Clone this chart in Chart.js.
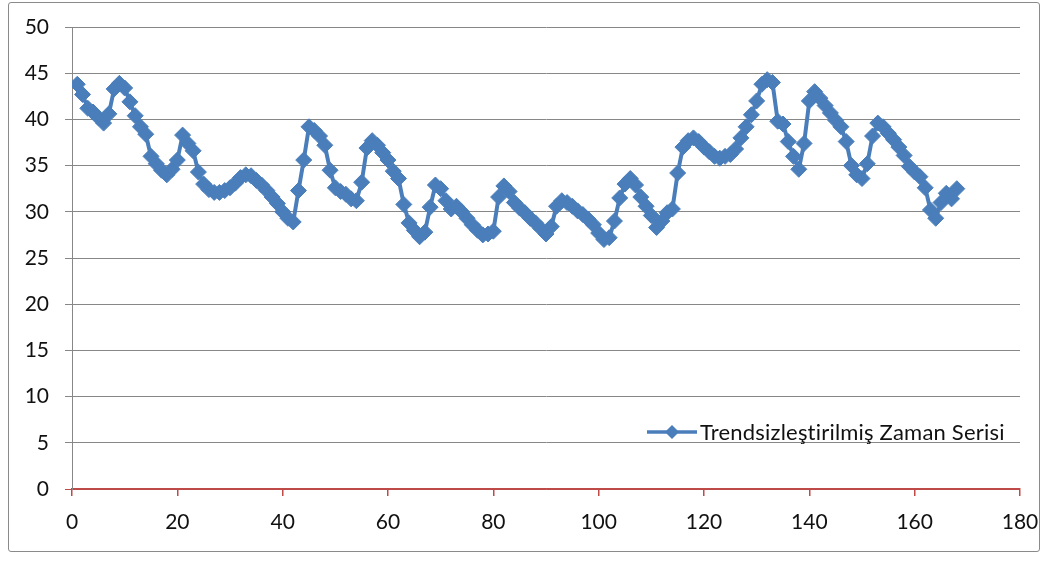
<!DOCTYPE html>
<html>
<head>
<meta charset="utf-8">
<script src="https://cdn.jsdelivr.net/npm/chart.js@4.4.1/dist/chart.umd.min.js"></script>
<style>
  html, body { margin: 0; padding: 0; background: #fff; }
  #wrap { position: relative; width: 1049px; height: 561px; overflow: hidden; }
  #frame { position: absolute; left: 8px; top: 2px; width: 1032px; height: 550px;
           border: 1px solid #8a8a8a; border-radius: 3px; box-sizing: border-box; }
  #chart { position: absolute; left: 0; top: 0; }
  #legend { position: absolute; left: 647px; top: 418px; display: flex; align-items: center;
            font-family: Lato, "Open Sans", sans-serif; font-size: 22px; letter-spacing: 0.2px;
            color: #111; white-space: nowrap; }
  #legend svg { margin-right: 3px; }
</style>
</head>
<body>
<div id="wrap">
  <div id="frame"></div>
  <canvas id="chart" width="1049" height="561"></canvas>
  <div id="legend"></div>
</div>
<script>
// Detrended series, one value per period (period = position in the list, starting at 1)
const seriesName = 'Trendsizleştirilmiş Zaman Serisi';
const seriesValues = [
  43.8, 42.7, 41.2, 40.8, 40.2, 39.6, 40.6, 43.3, 43.9, 43.4,
  41.9, 40.4, 39.2, 38.4, 36.0, 35.2, 34.5, 34.0, 34.6, 35.6,
  38.3, 37.4, 36.6, 34.3, 33.0, 32.4, 32.1, 32.1, 32.3, 32.6,
  33.1, 33.7, 34.0, 33.9, 33.4, 32.9, 32.3, 31.6, 30.9, 30.0,
  29.3, 28.9, 32.3, 35.6, 39.2, 38.8, 38.2, 37.2, 34.5, 32.6,
  32.2, 31.9, 31.4, 31.2, 33.2, 36.9, 37.7, 37.2, 36.4, 35.6,
  34.4, 33.6, 30.8, 28.8, 28.0, 27.3, 27.8, 30.5, 32.9, 32.5,
  31.2, 30.3, 30.6, 30.0, 29.3, 28.6, 28.0, 27.5, 27.6, 27.9,
  31.6, 32.8, 32.2, 31.0, 30.4, 29.9, 29.3, 28.8, 28.2, 27.6,
  28.4, 30.6, 31.2, 31.0, 30.6, 30.1, 29.7, 29.2, 28.6, 27.7,
  27.0, 27.2, 29.0, 31.5, 33.0, 33.6, 32.9, 31.6, 30.6, 29.6,
  28.3, 29.0, 29.9, 30.3, 34.2, 37.0, 37.7, 38.0, 37.6, 37.0,
  36.5, 36.0, 35.8, 36.0, 36.2, 36.8, 38.0, 39.2, 40.5, 42.0,
  43.8, 44.3, 44.0, 39.8, 39.5, 37.6, 36.0, 34.6, 37.4, 42.0,
  43.0, 42.3, 41.5, 40.7, 39.9, 39.2, 37.6, 35.0, 34.0, 33.6,
  35.2, 38.2, 39.6, 39.2, 38.5, 37.8, 37.0, 36.1, 34.9, 34.3,
  33.8, 32.6, 30.2, 29.3, 31.0, 32.0, 31.4, 32.5
];
const xTicks = [0, 20, 40, 60, 80, 100, 120, 140, 160, 180];
const yTicks = [0, 5, 10, 15, 20, 25, 30, 35, 40, 45, 50];

const lineColor = '#4A7EBB';
const axisRed = '#BE4B48';
const gridGray = '#878787';
const tickFont = { family: 'Lato, "Open Sans", sans-serif', size: 21 };

const points = seriesValues.map((v, i) => ({ x: i + 1, y: v }));

new Chart(document.getElementById('chart'), {
  type: 'line',
  data: {
    datasets: [{
      label: seriesName,
      data: points,
      borderColor: lineColor,
      backgroundColor: lineColor,
      borderWidth: 4,
      pointStyle: 'rectRot',
      pointRadius: 8,
      pointBorderWidth: 1,
      pointBorderColor: lineColor,
      pointBackgroundColor: lineColor,
      tension: 0,
      fill: false
    }]
  },
  options: {
    responsive: false,
    animation: false,
    layout: { padding: { left: 0, right: 29, top: 27, bottom: 0 } },
    plugins: { legend: { display: false }, tooltip: { enabled: false } },
    scales: {
      x: {
        type: 'linear',
        min: xTicks[0],
        max: xTicks[xTicks.length - 1],
        afterBuildTicks: s => { s.ticks = xTicks.map(v => ({ value: v })); },
        afterFit: s => { s.height = 72; s.paddingLeft = 0; s.paddingRight = 0; },
        ticks: { color: '#111', font: tickFont, padding: 14, maxRotation: 0 },
        grid: { drawOnChartArea: false, drawTicks: true, tickLength: 7, color: axisRed, lineWidth: 1.5 },
        border: { color: axisRed, width: 1.5 }
      },
      y: {
        min: yTicks[0],
        max: yTicks[yTicks.length - 1],
        afterBuildTicks: s => { s.ticks = yTicks.map(v => ({ value: v })); },
        afterFit: s => { s.width = 72; s.paddingTop = 0; s.paddingBottom = 0; },
        ticks: { color: '#111', font: tickFont, padding: 16 },
        grid: {
          color: c => (c.tick && c.tick.value === 0) ? axisRed : gridGray,
          lineWidth: 1,
          tickLength: 7
        },
        border: { color: gridGray, width: 1 }
      }
    }
  }
});

// Legend entry: line with a diamond marker, then the series name
const legend = document.getElementById('legend');
legend.innerHTML =
  '<svg width="50" height="20" viewBox="0 0 50 20">' +
  '<line x1="0" y1="10" x2="50" y2="10" stroke="' + lineColor + '" stroke-width="3.5"/>' +
  '<polygon points="25,3 32,10 25,17 18,10" fill="' + lineColor + '"/>' +
  '</svg>';
const label = document.createElement('span');
label.textContent = seriesName;
legend.appendChild(label);
</script>
</body>
</html>
